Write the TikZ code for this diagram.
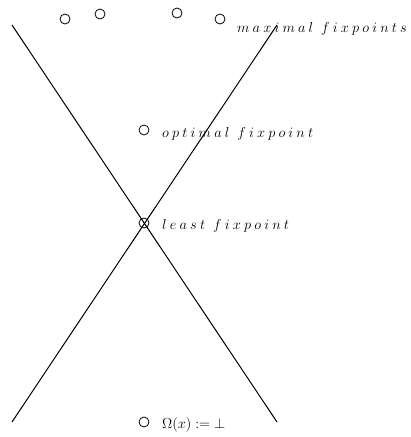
\documentclass[tikz,border=0pt]{standalone}
\newcommand{\spc}{\mskip 4mu}
\newcommand{\wsp}{\mskip 10mu}
\begin{document}
\begin{tikzpicture}[x=1pt,y=-1pt,
  pt/.style={circle,draw,line width=0.8pt,minimum size=10pt,inner sep=0pt},
  lbl/.style={anchor=base west,inner sep=0pt,font=\fontsize{14.5}{16}\selectfont},
  ln/.style={line width=1pt}]
\useasboundingbox (0,0) rectangle (411,437);
\coordinate (a1) at (12,25);
\coordinate (a2) at (277,422);
\coordinate (b1) at (12,422);
\coordinate (b2) at (277,25);
\draw[ln] (a1) -- (a2);
\draw[ln] (b1) -- (b2);
\node[pt] (m1) at (65,19) {};
\node[pt] (m2) at (100,14) {};
\node[pt] (m3) at (177,13) {};
\node[pt] (m4) at (220,19) {};
\node[pt] (o) at (144,130) {};
\node[pt] (l) at (144,223) {};
\node[pt] (b) at (144,422) {};
\node[lbl] (tm) at (237,32) {$m\spc a\spc x\spc i\spc m\spc a\spc l\wsp f\spc i\spc x\spc p\spc o\spc i\spc n\spc t\spc s$};
\node[lbl] (to) at (162,137) {$o\spc p\spc t\spc i\spc m\spc a\spc l\wsp f\spc i\spc x\spc p\spc o\spc i\spc n\spc t$};
\node[lbl] (tl) at (162,229) {$l\spc e\spc a\spc s\spc t\wsp f\spc i\spc x\spc p\spc o\spc i\spc n\spc t$};
\node[lbl] (tb) at (162,428) {$\Omega(x)\mathrel{:=}\bot$};
\end{tikzpicture}
\end{document}
